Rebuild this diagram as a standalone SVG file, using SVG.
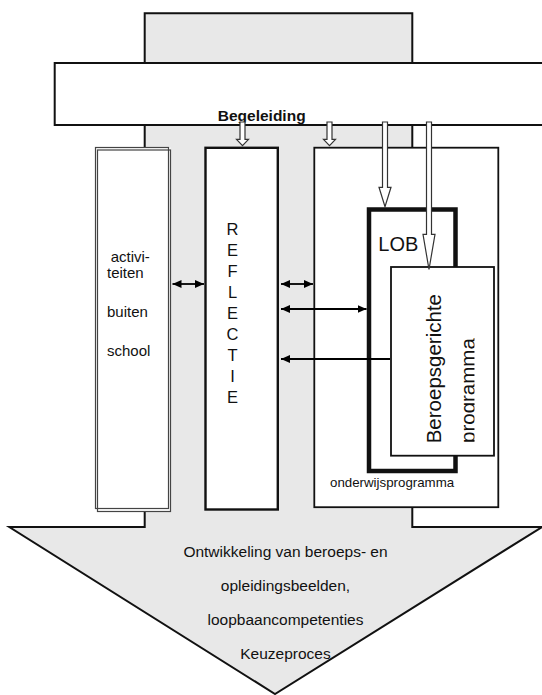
<svg xmlns="http://www.w3.org/2000/svg" width="542" height="695" viewBox="0 0 542 695">
<style>
text{font-family:"Liberation Sans",Arial,sans-serif;fill:#111}
.gray{fill:#e8e8e8;stroke:#111;stroke-width:2}
.box{fill:#fff;stroke:#111}
.hollow{fill:#fff;stroke:#333;stroke-width:1.2}
.conn{stroke:#000;stroke-width:1.8;fill:none}
</style>
<defs>
<marker id="ah" markerUnits="userSpaceOnUse" markerWidth="10" markerHeight="10" refX="9" refY="4" orient="auto-start-reverse">
<path d="M0,0 L9,4 L0,8 z" fill="#000"/>
</marker>
<clipPath id="clipProg"><rect x="380" y="250" width="94.5" height="210"/></clipPath>
</defs>

<g id="main-arrow">
<polygon class="gray" points="144.7,13.3 412.3,13.3 412.3,527 542,527 275,694 9.3,527 144.7,527"/>
</g>

<g id="begeleiding">
<rect class="box" x="54.7" y="63" width="495" height="62" stroke-width="2"/>
<text x="261.7" y="120.7" font-size="15.5" font-weight="bold" text-anchor="middle">Begeleiding</text>
</g>

<g id="activiteiten">
<rect x="95.5" y="147.5" width="75" height="364" fill="#fff"/>
<rect x="95.5" y="147.5" width="73" height="361" fill="none" stroke="#444" stroke-width="1.2"/>
<rect x="97.5" y="150" width="73" height="361.5" fill="none" stroke="#444" stroke-width="1.2"/>
<text font-size="15" x="110.7" y="261.7">activi-</text>
<text font-size="15" x="107" y="278">teiten</text>
<text font-size="15" x="107" y="316.7">buiten</text>
<text font-size="15" x="107" y="355.7">school</text>
</g>

<g id="reflectie">
<rect class="box" x="205.5" y="147.8" width="72.3" height="361.7" stroke-width="2.4"/>
<g font-size="16.5" text-anchor="middle">
<text x="232.5" y="235">R</text>
<text x="232.5" y="256">E</text>
<text x="232.5" y="277">F</text>
<text x="232.5" y="298">L</text>
<text x="232.5" y="319">E</text>
<text x="232.5" y="340">C</text>
<text x="232.5" y="361">T</text>
<text x="232.5" y="382">I</text>
<text x="232.5" y="403">E</text>
</g>
</g>

<g id="onderwijsprogramma">
<rect class="box" x="314.3" y="147.7" width="184" height="359.5" stroke-width="1.8"/>
<text x="330" y="486.7" font-size="13.3">onderwijsprogramma</text>
</g>

<g id="lob">
<rect class="box" x="369" y="209.5" width="86.5" height="261.5" stroke-width="4.5"/>
<text x="378.3" y="250.7" font-size="20">LOB</text>
</g>

<g id="beroepsgericht">
<rect class="box" x="391" y="267" width="103" height="188.7" stroke-width="1.8"/>
<text font-size="20.5" transform="translate(440.5,443.3) rotate(-90)">Beroepsgerichte</text>
<g clip-path="url(#clipProg)">
<text font-size="20.5" transform="translate(475,443) rotate(-90)">programma</text>
</g>
</g>

<g id="connectors">
<line class="conn" x1="172.5" y1="284" x2="204" y2="284" marker-start="url(#ah)" marker-end="url(#ah)"/>
<line class="conn" x1="281" y1="284" x2="313" y2="284" marker-start="url(#ah)" marker-end="url(#ah)"/>
<line class="conn" x1="281" y1="309" x2="366.5" y2="309" marker-start="url(#ah)" marker-end="url(#ah)"/>
<line class="conn" x1="390" y1="359" x2="281" y2="359" marker-end="url(#ah)"/>
<polygon class="hollow" points="240,122 245,122 245,139.3 248.5,139.3 242.5,145.7 236.5,139.3 240,139.3"/>
<polygon class="hollow" points="327,122 332,122 332,139.3 335.5,139.3 329.5,145.7 323.5,139.3 327,139.3"/>
<polygon class="hollow" points="382.5,122 387.5,122 387.5,187.3 391,187.3 385,206.7 379,187.3 382.5,187.3"/>
<polygon class="hollow" points="426.5,122 431.5,122 431.5,234.3 435,234.3 429,269.5 423,234.3 426.5,234.3"/>
</g>

<g id="result-text" font-size="15.5" text-anchor="middle">
<text x="285.5" y="556.7">Ontwikkeling van beroeps- en</text>
<text x="285.5" y="590.7">opleidingsbeelden,</text>
<text x="285.5" y="625">loopbaancompetenties</text>
<text x="285.5" y="659.3">Keuzeproces</text>
</g>
</svg>
